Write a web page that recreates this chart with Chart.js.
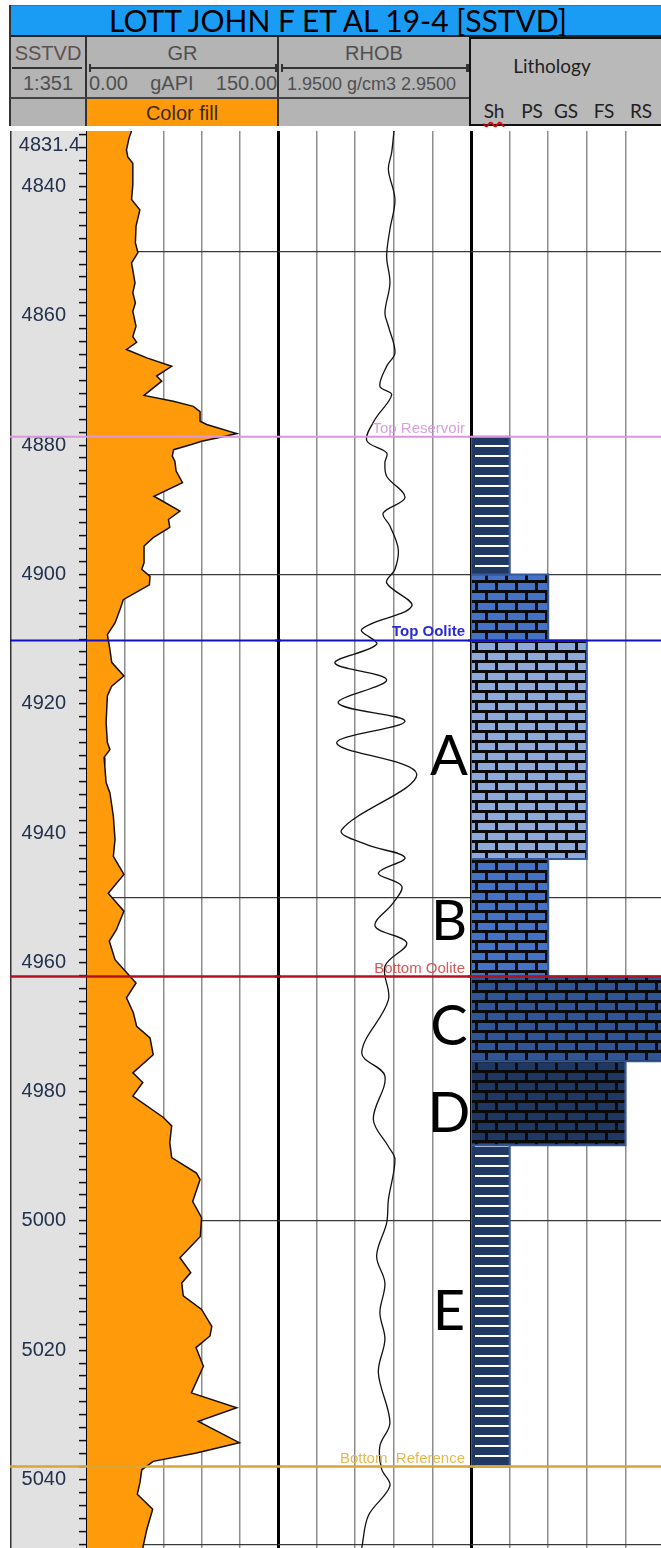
<!DOCTYPE html>
<html>
<head>
<meta charset="utf-8">
<title>LOTT JOHN F ET AL 19-4 [SSTVD]</title>
<script src="https://cdn.jsdelivr.net/npm/chart.js@4"></script>
<style>
  html, body { margin: 0; width: 661px; height: 1548px; overflow: hidden; background: #fff; }
  body { position: relative; font-family: 'Liberation Sans', Arial, sans-serif; color: #505050; }
  .abs { position: absolute; box-sizing: border-box; }
  #title { left: 10px; top: 5px; width: 655px; height: 32px; background: #1b9cf4; border-top: 1px solid #666; border-left: 1px solid #222; border-bottom: 2px solid #222;
           font: 30px Lato, sans-serif; color: #000; text-align: center; line-height: 28px; }
  .gray { background: #b4b4b4; }
  .line { background: #333; }
  .txt { font-size: 20px; line-height: 22px; text-align: center; white-space: nowrap; }
  .lith { font-family: Lato, sans-serif; font-size: 19px; color: #222; text-align: center; white-space: nowrap; }
  #sh { text-decoration: underline wavy #e00000; text-decoration-skip-ink: none; text-underline-offset: 3px; }
  canvas { position: absolute; }
</style>
</head>
<body>
<div class="abs" id="title">LOTT JOHN F ET AL 19-4 [SSTVD]</div>

<!-- header -->
<div class="abs gray" style="left:10px;top:37px;width:459px;height:89px;"></div>
<div class="abs" style="left:469px;top:37px;width:200px;height:89px;background:#b9b9b9;border:2px solid #111;"></div>
<div class="abs line" style="left:9px;top:5px;width:2px;height:121px;"></div>
<div class="abs line" style="left:85px;top:37px;width:2px;height:89px;"></div>
<div class="abs line" style="left:277px;top:37px;width:2px;height:89px;"></div>
<div class="abs line" style="left:10px;top:97px;width:459px;height:2px;background:#444;"></div>
<div class="abs" style="left:87px;top:99px;width:190px;height:27px;background:#ff9a0a;"></div>

<div class="abs txt" style="left:10px;top:42px;width:76px;color:#5d5050;">SSTVD</div>
<div class="abs line" style="left:12px;top:67px;width:70px;height:2px;"></div>
<div class="abs txt" style="left:10px;top:72px;width:76px;">1:351</div>

<div class="abs txt" style="left:87px;top:42px;width:191px;">GR</div>
<div class="abs line" style="left:90px;top:67px;width:186px;height:2px;"></div>
<div class="abs line" style="left:89px;top:64px;width:2px;height:8px;"></div>
<div class="abs line" style="left:275px;top:64px;width:2px;height:8px;"></div>
<div class="abs txt" style="left:89px;top:72px;width:188px;display:flex;justify-content:space-between;"><span>0.00</span><span>gAPI</span><span>150.00</span></div>
<div class="abs txt" style="left:87px;top:102px;width:190px;color:#3a2a10;">Color fill</div>

<div class="abs txt" style="left:279px;top:42px;width:190px;">RHOB</div>
<div class="abs line" style="left:281px;top:67px;width:187px;height:2px;"></div>
<div class="abs line" style="left:281px;top:64px;width:2px;height:8px;"></div>
<div class="abs line" style="left:466px;top:64px;width:3px;height:8px;"></div>
<div class="abs txt" style="left:287px;top:73px;font-size:18px;text-align:left;">1.9500 g/cm3 2.9500</div>

<div class="abs lith" style="left:500px;top:54px;width:104px;">Lithology</div>
<div id="lithCols"></div>

<canvas id="grCanvas" width="271" height="1417" style="left:10px;top:131px;"></canvas>
<canvas id="rhobCanvas" width="199" height="1417" style="left:275px;top:131px;"></canvas>
<canvas id="lithCanvas" width="200" height="1417" style="left:468px;top:131px;"></canvas>

<script>
// depth window (ft, SSTVD)
const depthTop = 4831.4;
const depthBase = 5050.6;

// GR log (gAPI)
const grDepth = [4831.4, 4832.5, 4834.3, 4835.4, 4836.4, 4839.7, 4842.0, 4843.6, 4846.1, 4848.7,
  4850.2, 4851.8, 4854.9, 4856.4, 4858.0, 4859.3, 4861.6, 4863.2, 4864.1, 4865.2,
  4866.5, 4867.8, 4869.3, 4870.1, 4872.3, 4873.2, 4874.0, 4874.8, 4876.3, 4876.8,
  4878.2, 4878.8, 4879.4, 4879.9, 4880.7, 4881.7, 4882.5, 4884.0, 4885.8, 4887.9,
  4890.2, 4891.5, 4892.7, 4894.3, 4895.6, 4898.2, 4899.2, 4900.3, 4901.6, 4903.9,
  4905.4, 4907.5, 4909.3, 4911.6, 4913.6, 4915.7, 4917.3, 4918.8, 4922.9, 4926.0,
  4927.1, 4928.3, 4929.7, 4932.2, 4933.8, 4937.4, 4941.0, 4943.6, 4946.4, 4949.3,
  4952.1, 4955.0, 4956.7, 4959.6, 4961.9, 4963.2, 4965.5, 4967.8, 4969.9, 4971.7,
  4974.3, 4977.1, 4978.6, 4980.7, 4984.0, 4985.3, 4987.9, 4990.2, 4992.6, 4993.6,
  4997.0, 4999.5, 5002.4, 5005.7, 5008.0, 5009.6, 5011.6, 5013.7, 5016.3, 5017.8,
  5019.6, 5022.5, 5026.6, 5028.9, 5031.0, 5034.3, 5035.9, 5037.2, 5038.5, 5040.5,
  5042.3, 5044.6, 5047.7, 5050.6];
const grValue = [35, 33, 31, 32, 36, 36, 35, 41.5, 38.5, 38,
  40, 35, 37.7, 36, 38, 36, 38.5, 36, 39, 31,
  47, 66.5, 54.7, 58.7, 44.8, 67.8, 83.5, 88.8, 88.8, 94,
  117.6, 104, 90, 82, 68, 67, 69, 70, 75, 52.6,
  73, 64, 65, 52, 44.8, 44.8, 43, 49.5, 49, 28.5,
  26, 22, 16, 18, 19.4, 29, 19.4, 16, 15, 16,
  18, 13.4, 14, 15, 18, 20.7, 22, 20.7, 29, 16.7,
  29, 23, 17.5, 22, 32.5, 38.5, 31, 36.4, 39, 49.5,
  52, 36, 43.8, 36, 60, 66.5, 65, 66.5, 86, 88.8,
  83, 90, 89, 73, 81.5, 74.4, 75.6, 90, 98, 96.6,
  85.6, 91.4, 82, 117.6, 87.4, 119.6, 86, 52, 43, 41.6,
  39.5, 51.6, 47, 43.8];

// RHOB log (g/cm3)
const rhobDepth = [4831.4, 4834.7, 4837.4, 4842.0, 4846.6, 4850.8, 4854.9, 4859.5, 4861.6, 4865.7,
  4867.8, 4870.9, 4872.2, 4876.0, 4879.3, 4881.2, 4882.7, 4884.8, 4888.1, 4890.5,
  4892.5, 4896.1, 4899.2, 4901.3, 4904.9, 4908.5, 4910.8, 4913.7, 4916.3, 4919.9,
  4922.7, 4926.1, 4930.9, 4939.5, 4941.8, 4943.8, 4946.2, 4948.2, 4950.8, 4954.4,
  4957.0, 4960.6, 4965.8, 4974.0, 4977.6, 4984.3, 4988.5, 4990.5, 4996.7, 5000.3,
  5005.4, 5009.6, 5014.2, 5018.3, 5023.5, 5031.2, 5034.8, 5038.4, 5041.0, 5045.6, 5050.6];
const rhobValue = [2.551, 2.539, 2.522, 2.556, 2.530, 2.513, 2.530, 2.504, 2.522, 2.556,
  2.513, 2.478, 2.539, 2.453, 2.410, 2.513, 2.504, 2.513, 2.608, 2.495,
  2.530, 2.573, 2.556, 2.513, 2.643, 2.384, 2.461, 2.245, 2.513, 2.262,
  2.608, 2.254, 2.669, 2.280, 2.410, 2.608, 2.470, 2.591, 2.547, 2.453,
  2.617, 2.504, 2.522, 2.384, 2.504, 2.444, 2.522, 2.556, 2.522, 2.513,
  2.461, 2.504, 2.478, 2.504, 2.470, 2.530, 2.478, 2.487, 2.530, 2.418, 2.384];

// lithology intervals: top, base, number of grain-size columns filled, kind
const lithTop  = [4878.7, 4900.0, 4910.2, 4944.0, 4962.2, 4975.3, 4988.3];
const lithBase = [4900.0, 4910.2, 4944.0, 4962.2, 4975.3, 4988.3, 5038.0];
const lithCols = [1, 2, 3, 2, 5, 4, 1];
const lithKind = ['shale', 'brick', 'brick', 'brick', 'brick', 'brick', 'shale'];
const lithColumns = ['Sh', 'PS', 'GS', 'FS', 'RS'];

// formation tops
const topNames  = ['Top Reservoir', 'Top Oolite', 'Bottom Oolite', 'Bottom_Reference'];
const topDepths = [4878.7, 4910.2, 4962.2, 5038.0];

// zone letters (baseline depth)
const zoneLetters = ['A', 'B', 'C', 'D', 'E'];
const zoneDepths  = [4931.0, 4956.5, 4972.8, 4986.2, 5016.8];

// track scales
const grTicks   = [0, 30, 60, 90, 120, 150];
const rhobTicks = [1.95, 2.15, 2.35, 2.55, 2.75, 2.95];
const lithTicks = [0, 1, 2, 3, 4, 5];
const gridDepths = [4850, 4900, 4950, 5000, 5050];
const depthTicks = [];
for (let d = 4832; d <= 5050; d += 2) depthTicks.push(d);

// styles
const lithColor = ['#1f3864', '#4472c4', '#8eaadb', '#4472c4', '#2f5597', '#1f3763', '#1f3864'];
const topStyle = [
  { line: '#dc96de', text: '#d9a0de', width: 2, bold: false },
  { line: '#1010c8', text: '#2a2ad4', width: 2, bold: true },
  { line: '#b31020', text: '#d25a5a', width: 2.5, bold: false },
  { line: '#d9a53a', text: '#e6b84c', width: 2.5, bold: false }
];

// column labels in the lithology header
const colCenters = [494, 532, 566, 604, 641];
document.getElementById('lithCols').innerHTML = lithColumns.map((c, i) =>
  '<div class="abs lith" ' + (i === 0 ? 'id="sh" ' : '') + 'style="left:' + (colCenters[i] - 20) + 'px;top:99px;width:40px;">' + c + '</div>').join('');

function brickPattern(color) {
  const c = document.createElement('canvas');
  c.width = 20; c.height = 20;
  const g = c.getContext('2d');
  g.fillStyle = '#0a0a0a'; g.fillRect(0, 0, 20, 20);
  g.fillStyle = color;
  g.fillRect(0, 2, 17, 7);
  g.fillRect(10, 12, 10, 7);
  g.fillRect(0, 12, 7, 7);
  return g.createPattern(c, 'repeat');
}
function shalePattern(color) {
  const c = document.createElement('canvas');
  c.width = 200; c.height = 10;
  const g = c.getContext('2d');
  g.fillStyle = color; g.fillRect(0, 0, 200, 10);
  g.fillStyle = '#ffffff'; g.fillRect(7, 4, 34, 2);
  return g.createPattern(c, 'repeat');
}

function depthAxis() {
  return {
    type: 'linear', reverse: true, min: depthTop, max: depthBase,
    afterBuildTicks: s => { s.ticks = gridDepths.map(v => ({ value: v })); },
    ticks: { display: false },
    grid: { color: '#3a3a3a', lineWidth: 1.2, drawTicks: false },
    border: { display: false },
    afterFit: s => { s.width = 0; }
  };
}
function valueAxis(min, max, ticks, leftW, rightW, rightColor) {
  const last = ticks.length - 1;
  return {
    type: 'linear', position: 'bottom', min: min, max: max,
    afterBuildTicks: s => { s.ticks = ticks.map(v => ({ value: v })); },
    ticks: { display: false },
    grid: {
      drawTicks: false,
      color: c => c.index === 0 ? '#000' : c.index === last ? rightColor : '#8d8d8d',
      lineWidth: c => c.index === 0 ? leftW : c.index === last ? rightW : 1.5
    },
    border: { display: false },
    afterFit: s => { s.height = 0; }
  };
}

function topsPlugin(withLabels) {
  return {
    id: 'tops',
    afterDatasetsDraw(chart) {
      const ctx = chart.ctx, ys = chart.scales.y, area = chart.chartArea;
      ctx.save();
      topDepths.forEach((d, i) => {
        const py = ys.getPixelForValue(d);
        ctx.strokeStyle = topStyle[i].line;
        ctx.lineWidth = topStyle[i].width;
        ctx.beginPath(); ctx.moveTo(0, py); ctx.lineTo(chart.width, py); ctx.stroke();
        if (withLabels) {
          ctx.font = (topStyle[i].bold ? 'bold ' : '') + '15px "Liberation Sans", Arial';
          ctx.fillStyle = topStyle[i].text;
          ctx.textAlign = 'right';
          ctx.textBaseline = 'alphabetic';
          ctx.fillText(topNames[i], area.right - 6, py - 4);
        }
      });
      ctx.restore();
    }
  };
}

const common = {
  responsive: false, animation: false, indexAxis: 'y', events: [],
  plugins: { legend: { display: false }, tooltip: { enabled: false } }
};

// GR track with the depth axis on its left
new Chart(document.getElementById('grCanvas'), {
  type: 'line',
  data: {
    datasets: [{
      data: grDepth.map((d, i) => ({ x: grValue[i], y: d })),
      borderColor: '#111', borderWidth: 1.5, backgroundColor: '#ff9a0a',
      fill: 'origin', pointRadius: 0, tension: 0
    }]
  },
  options: Object.assign({}, common, {
    layout: { padding: { left: 0, right: 3, top: 0, bottom: 0 } },
    scales: {
      x: valueAxis(0, 150, grTicks, 2, 3, '#000'),
      y: {
        type: 'linear', reverse: true, min: depthTop, max: depthBase, position: 'left',
        afterBuildTicks: s => { s.ticks = depthTicks.map(v => ({ value: v })); },
        ticks: {
          autoSkip: false, padding: 13, color: '#23314c',
          font: { family: '"Liberation Sans", Arial', size: 20 },
          callback: v => (v % 20 === 0 ? String(v) : '')
        },
        grid: {
          color: c => (c.tick && c.tick.value % 50 === 0) ? '#3a3a3a' : 'rgba(0,0,0,0)',
          lineWidth: 1.2, tickLength: 8, tickColor: '#111', tickWidth: 1.5
        },
        border: { display: true, color: '#000', width: 2 },
        afterFit: s => { s.width = 77; s.paddingTop = 0; s.paddingBottom = 0; }
      }
    }
  }),
  plugins: [{
    id: 'depthTrack',
    beforeDraw(chart) {
      const ctx = chart.ctx, a = chart.chartArea;
      ctx.save();
      ctx.fillStyle = '#e1e1e1';
      ctx.fillRect(0, a.top, a.left, a.bottom - a.top);
      ctx.fillStyle = '#333';
      ctx.fillRect(0, a.top, 1.5, a.bottom - a.top);
      ctx.restore();
    },
    afterDraw(chart) {
      const ctx = chart.ctx, a = chart.chartArea;
      ctx.save();
      ctx.font = '20px "Liberation Sans", Arial';
      ctx.fillStyle = '#23314c';
      ctx.textAlign = 'right';
      ctx.textBaseline = 'middle';
      ctx.fillText(String(depthTop), a.left - 7, a.top + 14);
      ctx.restore();
    }
  }, topsPlugin(false)]
});

// RHOB track
new Chart(document.getElementById('rhobCanvas'), {
  type: 'line',
  data: {
    datasets: [{
      data: rhobDepth.map((d, i) => ({ x: rhobValue[i], y: d })),
      borderColor: '#111', borderWidth: 1.3, fill: false, pointRadius: 0, tension: 0.35
    }]
  },
  options: Object.assign({}, common, {
    layout: { padding: { left: 3, right: 3, top: 0, bottom: 0 } },
    scales: { x: valueAxis(1.95, 2.95, rhobTicks, 3, 3, '#000'), y: depthAxis() }
  }),
  plugins: [topsPlugin(true), {
    id: 'zones',
    afterDatasetsDraw(chart) {
      const ctx = chart.ctx, ys = chart.scales.y, a = chart.chartArea;
      ctx.save();
      ctx.font = '56px Lato, sans-serif';
      ctx.fillStyle = '#000';
      ctx.textAlign = 'center';
      ctx.textBaseline = 'alphabetic';
      zoneLetters.forEach((t, i) => ctx.fillText(t, a.right - 22, ys.getPixelForValue(zoneDepths[i])));
      ctx.restore();
    }
  }]
});

// lithology track
new Chart(document.getElementById('lithCanvas'), {
  type: 'line',
  data: {
    datasets: lithTop.map((top, i) => ({
      data: [
        { x: 0, y: top }, { x: lithCols[i], y: top },
        { x: lithCols[i], y: lithBase[i] }, { x: 0, y: lithBase[i] }, { x: 0, y: top }
      ],
      borderColor: '#35599c', borderWidth: 2,
      backgroundColor: lithKind[i] === 'shale' ? shalePattern(lithColor[i]) : brickPattern(lithColor[i]),
      fill: 'shape', pointRadius: 0, tension: 0
    }))
  },
  options: Object.assign({}, common, {
    layout: { padding: { left: 3, right: 4, top: 0, bottom: 0 } },
    scales: { x: valueAxis(0, 5, lithTicks, 3, 1.5, '#8d8d8d'), y: depthAxis() }
  }),
  plugins: [topsPlugin(false)]
});
</script>
</body>
</html>
